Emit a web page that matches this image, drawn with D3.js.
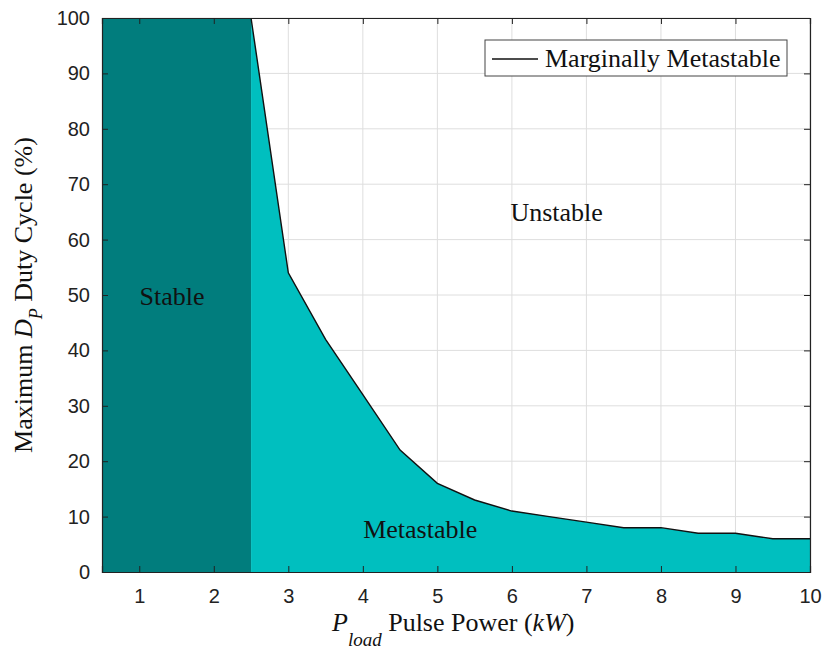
<!DOCTYPE html>
<html><head><meta charset="utf-8">
<script src="https://cdn.jsdelivr.net/npm/d3@7"></script>
<style>body{margin:0;background:#fff;} svg{display:block;}</style>
</head><body>
<svg id="c" width="828" height="649"></svg>
<script>
const powerKW = [2.5, 3, 3.5, 4, 4.5, 5, 5.5, 6, 6.5, 7, 7.5, 8, 8.5, 9, 9.5, 10];
const maxDuty = [100, 54, 42, 32, 22, 16, 13, 11, 10, 9, 8, 8, 7, 7, 6, 6];
const stableRange = [0.5, 2.5];
const xTicks = [1,2,3,4,5,6,7,8,9,10];
const yTicks = [0,10,20,30,40,50,60,70,80,90,100];
const regionNames = ["Stable", "Unstable", "Metastable"];
const regionAnchorX = [1.44, 6.6, 4.77];
const regionAnchorY = [48.2, 63.4, 6.1];

const svg = d3.select("#c");
const L=102, R=810, T=18, B=572;
const x = d3.scaleLinear().domain([0.5,10]).range([L,R]);
const y = d3.scaleLinear().domain([0,100]).range([B,T]);
const sans = "Liberation Sans, Arial, sans-serif";
const serif = "Liberation Serif, Times New Roman, serif";

// grid
const grid = svg.append("g");
grid.selectAll("line.v").data(xTicks).join("line")
  .attr("x1",d=>x(d)).attr("x2",d=>x(d)).attr("y1",T).attr("y2",B)
  .attr("stroke","#dedede").attr("stroke-width",1);
grid.selectAll("line.h").data(yTicks).join("line")
  .attr("x1",L).attr("x2",R).attr("y1",d=>y(d)).attr("y2",d=>y(d))
  .attr("stroke","#dedede").attr("stroke-width",1);

// fills
svg.append("rect").attr("x",x(stableRange[0])).attr("y",y(100))
  .attr("width",x(stableRange[1])-x(stableRange[0])).attr("height",y(0)-y(100))
  .attr("fill","#017d7d");
const pts = powerKW.map((p,i)=>[p,maxDuty[i]]);
svg.append("path").datum(pts)
  .attr("d", d3.area().x(d=>x(d[0])).y0(y(0)).y1(d=>y(d[1])))
  .attr("fill","#00bfbf");

// boundary line
svg.append("path").datum(pts)
  .attr("d", d3.line().x(d=>x(d[0])).y(d=>y(d[1])))
  .attr("fill","none").attr("stroke","#111").attr("stroke-width",1.4);

// axes
const ax = svg.append("g").attr("transform",`translate(0,${B})`)
  .call(d3.axisBottom(x).tickValues(xTicks).tickSize(-6).tickPadding(17).tickFormat(d3.format("d")));
const ay = svg.append("g").attr("transform",`translate(${L},0)`)
  .call(d3.axisLeft(y).tickValues(yTicks).tickSize(-6).tickPadding(12).tickFormat(d3.format("d")));
const axT = svg.append("g").attr("transform",`translate(0,${T})`)
  .call(d3.axisTop(x).tickValues(xTicks).tickSize(-6).tickFormat(""));
const ayR = svg.append("g").attr("transform",`translate(${R},0)`)
  .call(d3.axisRight(y).tickValues(yTicks).tickSize(-6).tickFormat(""));
[ax,ay,axT,ayR].forEach(g=>{
  g.select(".domain").attr("stroke","#222").attr("stroke-width",1.2);
  g.selectAll(".tick line").attr("stroke","#222");
  g.selectAll(".tick text").attr("font-family",sans).attr("font-size",20).attr("fill","#222");
});

// legend
const lg = svg.append("g");
lg.append("rect").attr("x",485).attr("y",40).attr("width",302).attr("height",36)
  .attr("fill","#fff").attr("stroke","#444").attr("stroke-width",1);
lg.append("line").attr("x1",492).attr("x2",538).attr("y1",59).attr("y2",59)
  .attr("stroke","#111").attr("stroke-width",1.5);
lg.append("text").attr("x",545).attr("y",67).text("Marginally Metastable")
  .attr("font-family",serif).attr("font-size",26).attr("fill","#111");

// region labels
svg.selectAll("text.reg").data(regionNames).join("text")
  .attr("x",(d,i)=>x(regionAnchorX[i])).attr("y",(d,i)=>y(regionAnchorY[i])).attr("text-anchor","middle")
  .attr("font-family",serif).attr("font-size",26).attr("fill","#111").text(d=>d);

// x label
const xl = svg.append("text").attr("x",332).attr("y",631)
  .attr("font-family",serif).attr("font-size",26).attr("fill","#111");
xl.append("tspan").attr("font-style","italic").text("P");
xl.append("tspan").attr("font-style","italic").attr("font-size",19).attr("dy",15).text("load");
xl.append("tspan").attr("dy",-15).text(" Pulse Power (");
xl.append("tspan").attr("font-style","italic").text("kW");
xl.append("tspan").text(")");

// y label
const yl = svg.append("text").attr("transform","translate(32,295) rotate(-90)")
  .attr("text-anchor","middle").attr("font-family",serif).attr("font-size",26).attr("fill","#111");
yl.append("tspan").text("Maximum ");
yl.append("tspan").attr("font-style","italic").text("D");
yl.append("tspan").attr("font-style","italic").attr("font-size",18).attr("dy",10).text("P");
yl.append("tspan").attr("dy",-10).text(" Duty Cycle (%)");
</script>
</body></html>
